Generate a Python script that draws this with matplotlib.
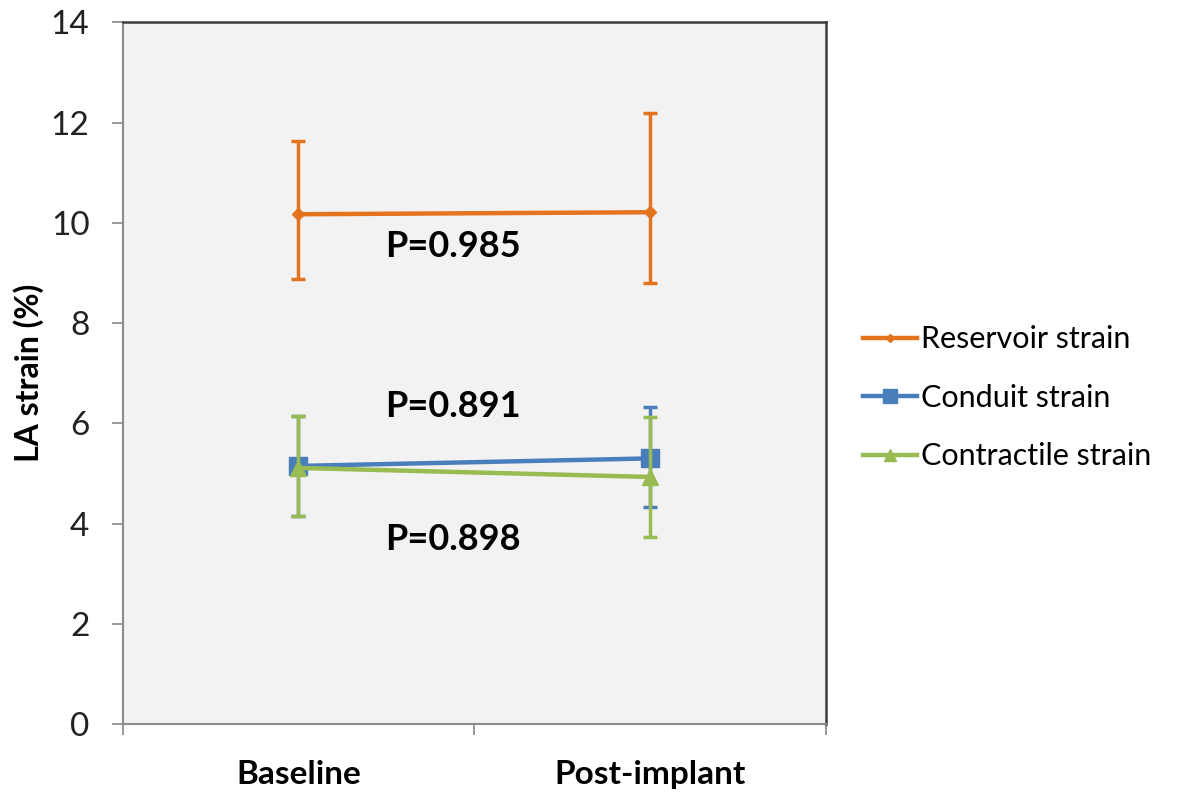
import numpy as np
import matplotlib
matplotlib.use("Agg")
import matplotlib.pyplot as plt
from matplotlib.ticker import FixedLocator, NullFormatter

# ---- data ----
groups = ["Baseline", "Post-implant"]
series_names = ["Reservoir strain", "Conduit strain", "Contractile strain"]

reservoir_mean = [10.17, 10.21]
reservoir_up = [1.46, 1.98]      # distance to upper cap
reservoir_lo = [1.30, 1.41]      # distance to lower cap

conduit_mean = [5.15, 5.30]
conduit_up = [0.99, 1.02]
conduit_lo = [0.99, 0.97]

contractile_mean = [5.11, 4.93]
contractile_up = [1.03, 1.19]
contractile_lo = [0.96, 1.20]

p_labels = ["P=0.985", "P=0.891", "P=0.898"]
p_y = [9.53, 6.34, 3.68]

COLORS = ["#E3731C", "#4A7EBB", "#98BB52"]
MARKERS = ["D", "s", "^"]
MSIZES = [6, 13, 11]

plt.rcParams['font.family'] = ['Lato', 'DejaVu Sans']

fig = plt.figure(figsize=(11.81, 7.94), dpi=100)
ax = fig.add_axes([0.104, 0.088, 0.595, 0.884])
ax.set_facecolor("#F2F2F2")

x = np.arange(len(groups)) + 0.5
means = [reservoir_mean, conduit_mean, contractile_mean]
ups = [reservoir_up, conduit_up, contractile_up]
los = [reservoir_lo, conduit_lo, contractile_lo]

handles = []
for k in range(3):
    ax.errorbar(x, means[k], yerr=[los[k], ups[k]], fmt='none',
                ecolor=COLORS[k], elinewidth=2.5, capsize=5, capthick=2.5,
                zorder=2 + k)
    h, = ax.plot(x, means[k], color=COLORS[k], lw=3.2, marker=MARKERS[k],
                 ms=MSIZES[k], zorder=3 + k, label=series_names[k])
    handles.append(h)

for txt, yy in zip(p_labels, p_y):
    ax.text(0.94, yy, txt, ha='center', va='center', fontsize=26,
            fontweight='bold', color='black')

ax.set_xlim(0, 2)
ax.set_ylim(0, 14)
ax.set_yticks(np.arange(0, 15, 2))
ax.tick_params(axis='y', labelsize=24, length=8, width=1.2, color='#888888',
               pad=16, labelcolor='#222222')
ax.xaxis.set_major_locator(FixedLocator([0, 1, 2]))
ax.xaxis.set_major_formatter(NullFormatter())
ax.xaxis.set_minor_locator(FixedLocator(x))
ax.set_xticklabels(groups, minor=True)
ax.tick_params(axis='x', which='major', length=8, width=1.2, color='#888888')
ax.tick_params(axis='x', which='minor', length=0, pad=26, labelsize=24)
for lab in ax.get_xticklabels(minor=True):
    lab.set_fontweight('bold')

ax.set_ylabel("LA strain (%)", fontsize=23, fontweight='bold', labelpad=5)

for side in ['left', 'bottom']:
    ax.spines[side].set_color('#8C8C8C')
    ax.spines[side].set_linewidth(1.5)
for side in ['top', 'right']:
    ax.spines[side].set_color('#3C3C3C')
    ax.spines[side].set_linewidth(1.8)

fig.legend(handles=handles, loc='center left', bbox_to_anchor=(0.731, 0.499),
           frameon=False, fontsize=22, handlelength=1.75, handletextpad=0.15,
           labelspacing=1.0, markerscale=0.75, borderpad=0, borderaxespad=0)

fig.savefig("out.png", dpi=100)
